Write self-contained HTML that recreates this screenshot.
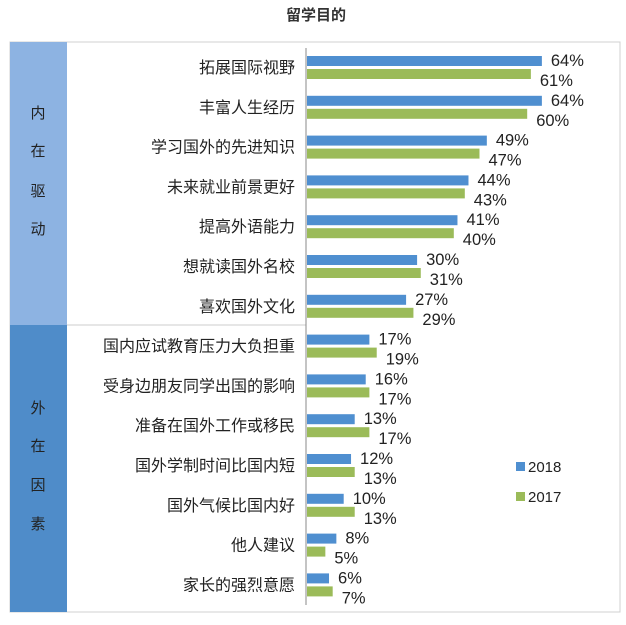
<!DOCTYPE html>
<html><head><meta charset="utf-8"><style>
body{margin:0;background:#fff;width:626px;height:620px;overflow:hidden;font-family:"Liberation Sans","Noto Sans CJK SC",sans-serif}
</style></head><body>
<svg id="c" width="626" height="620" xmlns="http://www.w3.org/2000/svg">
<text x="316" y="20" text-anchor="middle" font-size="15" font-weight="bold" fill="#333">留学目的</text>
<rect x="10" y="42" width="610" height="570" fill="none" stroke="#d0d0d0"/>
<rect x="10" y="42" width="57" height="283" fill="#8db3e2"/>
<rect x="10" y="325" width="57" height="287" fill="#4f8cc9"/>
<line x1="67" y1="325" x2="306" y2="325" stroke="#ccc"/>
<g font-size="15" fill="#222" text-anchor="middle">
<text x="38" y="118">内</text><text x="38" y="156">在</text><text x="38" y="196">驱</text><text x="38" y="234">动</text></g>
<g font-size="15" fill="#222" text-anchor="middle">
<text x="38" y="413">外</text><text x="38" y="451">在</text><text x="38" y="490">因</text><text x="38" y="529">素</text></g>
<line x1="306" y1="48" x2="306" y2="605" stroke="#888"/>
<g id="bars"></g>
<rect x="516" y="462" width="9" height="9" fill="#4f8fd0"/>
<text x="528" y="472" font-size="15" fill="#222">2018</text>
<rect x="516" y="492" width="9" height="9" fill="#9bbb59"/>
<text x="528" y="502" font-size="15" fill="#222">2017</text>
</svg>
<script>
const categories=["拓展国际视野","丰富人生经历","学习国外的先进知识","未来就业前景更好","提高外语能力","想就读国外名校","喜欢国外文化","国内应试教育压力大负担重","受身边朋友同学出国的影响","准备在国外工作或移民","国外学制时间比国内短","国外气候比国内好","他人建议","家长的强烈意愿"];
const values2018=[64,64,49,44,41,30,27,17,16,13,12,10,8,6];
const values2017=[61,60,47,43,40,31,29,19,17,17,13,13,5,7];
const x0=306,k=3.67,yTop=68,step=39.8;
const xs=v=>x0+v*k, yc=i=>yTop+i*step;
const g=document.getElementById('bars'),NS="http://www.w3.org/2000/svg";
function mk(t,a){const e=document.createElementNS(NS,t);for(const n in a)e.setAttribute(n,a[n]);g.appendChild(e);return e;}
categories.forEach((c,i)=>{
 const y=yc(i);
 const l=mk('text',{x:295,y:y+5,'text-anchor':'end','font-size':16,fill:'#222'});l.textContent=c;
 
 
 const b1=mk('rect',{x:x0+1,y:y-12,width:xs(values2018[i])-x0,height:10,fill:'#4f8fd0'});
 
 
 const b2=mk('rect',{x:x0+1,y:y+1,width:xs(values2017[i])-x0,height:10,fill:'#9bbb59'});
 
 
 const t1=mk('text',{x:xs(values2018[i])+10,y:y-2,'font-size':16.5,fill:'#222'});t1.textContent=values2018[i]+'%';
 
 
 const t2=mk('text',{x:xs(values2017[i])+10,y:y+18,'font-size':16.5,fill:'#222'});t2.textContent=values2017[i]+'%';
 
 
});
</script>
</body></html>
